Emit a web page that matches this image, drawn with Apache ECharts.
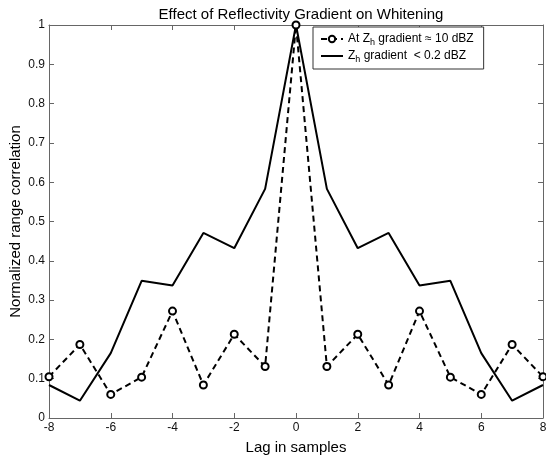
<!DOCTYPE html>
<html>
<head>
<meta charset="utf-8">
<script src="https://cdn.jsdelivr.net/npm/echarts@6/dist/echarts.min.js"></script>
<style>
  html, body { margin: 0; padding: 0; background: #fff; }
  #main { width: 546px; height: 459px; }
</style>
</head>
<body>
<div id="main"></div>
<script>
// lag axis and the two correlation curves
const lags = [-8, -7, -6, -5, -4, -3, -2, -1, 0, 1, 2, 3, 4, 5, 6, 7, 8]
const strongGradient = [0.105, 0.187, 0.060, 0.104, 0.272, 0.084, 0.213, 0.131, 1.0,
  0.131, 0.213, 0.084, 0.272, 0.104, 0.060, 0.187, 0.105]
const weakGradient = [0.084, 0.044, 0.165, 0.349, 0.337, 0.471, 0.432, 0.583, 1.0,
  0.583, 0.432, 0.471, 0.337, 0.349, 0.165, 0.044, 0.084]
const seriesNames = ['At Zh gradient ≈ 10 dBZ', 'Zh gradient  < 0.2 dBZ']

const toPairs = (ys) => lags.map((x, i) => [x, ys[i]])

const font = 'Liberation Sans, Arial, sans-serif'
const axisGray = '#666'

let chart = echarts.init(document.querySelector('#main'))

// box axes (top / right) only carry the inward ticks
const boxAxis = {
  axisLine: { show: true, onZero: false, lineStyle: { color: axisGray, width: 1 } },
  axisTick: { show: true, inside: true, length: 5, lineStyle: { color: axisGray } },
  axisLabel: { show: false },
  splitLine: { show: false }
}

let option = {
  animation: false,
  title: {
    text: 'Effect of Reflectivity Gradient on Whitening',
    left: 296,
    textAlign: 'center',
    top: 2,
    textStyle: { fontFamily: font, fontSize: 15, fontWeight: 'normal', color: '#000' }
  },
  legend: {
    left: 313,
    top: 27,
    orient: 'vertical',
    backgroundColor: '#fff',
    borderColor: '#333',
    borderWidth: 1,
    padding: [5, 10, 5, 7],
    itemGap: 2,
    itemWidth: 22,
    itemHeight: 8,
    data: seriesNames,
    formatter: function (name) {
      if (name === seriesNames[0]) {
        return '{n|At Z}{s|h}{n| gradient ≈ 10 dBZ}'
      }
      return '{n|Z}{s|h}{n| gradient  < 0.2 dBZ}'
    },
    textStyle: {
      fontFamily: font,
      color: '#000',
      rich: {
        n: { fontFamily: font, fontSize: 12, color: '#000', lineHeight: 16, verticalAlign: 'middle' },
        s: { fontFamily: font, fontSize: 9, color: '#000', lineHeight: 16, verticalAlign: 'bottom', padding: [6, 0, 0, 0] }
      }
    }
  },
  grid: { left: 49, right: 3, top: 25, bottom: 41, outerBoundsMode: 'none', containLabel: false },
  xAxis: [
    {
      type: 'value',
      min: -8,
      max: 8,
      interval: 2,
      name: 'Lag in samples',
      nameLocation: 'middle',
      nameGap: 22,
      nameMoveOverlap: false,
      nameTextStyle: { fontFamily: font, fontSize: 15, color: '#000' },
      axisLine: { show: true, onZero: false, lineStyle: { color: axisGray } },
      axisTick: { show: true, inside: true, length: 5, lineStyle: { color: axisGray } },
      axisLabel: { fontFamily: font, fontSize: 12, color: '#111', margin: 4 },
      splitLine: { show: false }
    },
    Object.assign({ type: 'value', position: 'top', min: -8, max: 8, interval: 2 }, boxAxis)
  ],
  yAxis: [
    {
      type: 'value',
      min: 0,
      max: 1,
      interval: 0.1,
      name: 'Normalized range correlation',
      nameLocation: 'middle',
      nameGap: 26,
      nameMoveOverlap: false,
      nameTextStyle: { fontFamily: font, fontSize: 15, color: '#000' },
      axisLine: { show: true, onZero: false, lineStyle: { color: axisGray } },
      axisTick: { show: true, inside: true, length: 5, lineStyle: { color: axisGray } },
      axisLabel: { fontFamily: font, fontSize: 12, color: '#111', margin: 4 },
      splitLine: { show: false }
    },
    Object.assign({ type: 'value', position: 'right', min: 0, max: 1, interval: 0.1 }, boxAxis)
  ],
  series: [
    {
      name: seriesNames[0],
      type: 'line',
      data: toPairs(strongGradient),
      symbol: 'emptyCircle',
      symbolSize: 7,
      showSymbol: true,
      showAllSymbol: true,
      itemStyle: { color: '#000', borderColor: '#000', borderWidth: 2 },
      lineStyle: { color: '#000', width: 2, type: [6, 4] },
      z: 3
    },
    {
      name: seriesNames[1],
      type: 'line',
      data: toPairs(weakGradient),
      symbol: 'none',
      itemStyle: { color: '#000', opacity: 0 },
      lineStyle: { color: '#000', width: 2 },
      z: 2
    }
  ]
}

chart.setOption(option)
</script>
</body>
</html>
